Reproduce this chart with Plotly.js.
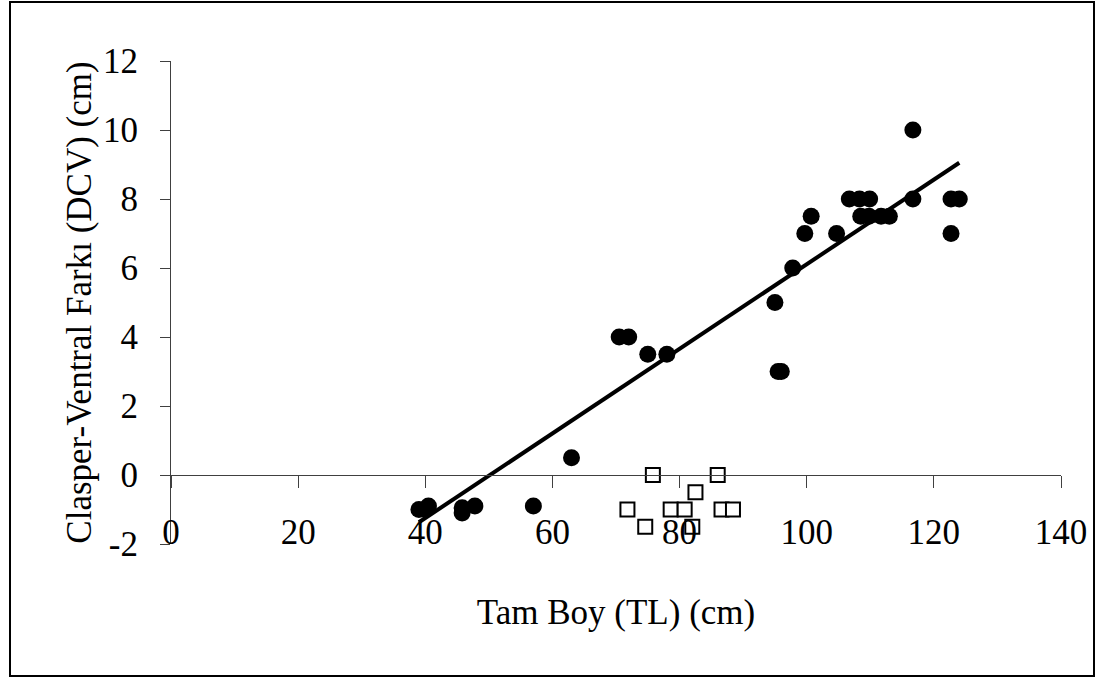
<!DOCTYPE html>
<html>
<head>
<meta charset="utf-8">
<script src="https://cdn.plot.ly/plotly-3.0.1.min.js"></script>
<style>
  html, body { margin: 0; padding: 0; background: #fff; }
  #wrap { position: relative; width: 1103px; height: 678px; }
  #chart { width: 1103px; height: 678px; }
  #frame { position: absolute; left: 9px; top: 1px; width: 1086px; height: 676px;
           border: 2px solid #000; box-sizing: border-box; pointer-events: none; }
</style>
</head>
<body>
<div id="wrap">
  <div id="chart"></div>
  <div id="frame"></div>
</div>
<script>
// Filled circles (mature)
const filledX = [39, 40, 40.5, 45.8, 45.8, 47.8, 57, 63, 70.5, 72, 75, 78, 95, 95.5, 96,
                 97.8, 99.7, 100.7, 104.7, 106.7, 108.3, 109.9, 108.5, 109.8, 111.7, 113,
                 116.7, 116.7, 122.7, 124, 122.7];
const filledY = [-1.0, -1.0, -0.9, -0.95, -1.1, -0.9, -0.9, 0.5, 4, 4, 3.5, 3.5, 5, 3, 3,
                 6, 7, 7.5, 7, 8, 8, 8, 7.5, 7.5, 7.5, 7.5,
                 10, 8, 8, 8, 7];
// Open squares (immature)
const openX = [75.8, 86, 82.5, 71.8, 78.6, 80.8, 86.6, 88.4, 74.6, 82];
const openY = [0, 0, -0.5, -1, -1, -1, -1, -1, -1.5, -1.5];
// Linear trend line end points
const trendX = [39, 124];
const trendY = [-1.37, 9.05];
// Axis ticks
const xTicks = [0, 20, 40, 60, 80, 100, 120, 140];
const yTicks = [-2, 0, 2, 4, 6, 8, 10, 12];

const FONT = '"Liberation Serif", serif';
const AXC = '#404040';

const traces = [
  { x: trendX, y: trendY, xaxis: 'x2', yaxis: 'y', type: 'scatter', mode: 'lines',
    line: { color: '#000', width: 4 }, hoverinfo: 'skip' },
  { x: filledX, y: filledY, type: 'scatter', mode: 'markers',
    marker: { symbol: 'circle', size: 17, color: '#000' } },
  { x: openX, y: openY, type: 'scatter', mode: 'markers',
    marker: { symbol: 'square', size: 14, color: '#fff', line: { color: '#000', width: 2 } } }
];

const layout = {
  width: 1103, height: 678,
  margin: { l: 171, r: 42, t: 61, b: 134, pad: 0 },
  paper_bgcolor: '#fff', plot_bgcolor: '#fff',
  showlegend: false,
  font: { family: FONT, color: '#000', size: 35 },
  xaxis: {
    range: [0, 140], tickvals: xTicks, ticktext: xTicks.map(String),
    showline: false, ticks: '', showgrid: false, zeroline: false,
    tickfont: { family: FONT, size: 35, color: '#000' },
    ticklabelstandoff: -36,
    title: { text: 'Tam Boy (TL) (cm)', font: { family: FONT, size: 35, color: '#000' }, standoff: 48 }
  },
  xaxis2: {
    overlaying: 'x', anchor: 'free', position: 2 / 14, side: 'bottom',
    range: [0, 140], tickvals: xTicks,
    showline: true, linecolor: AXC, linewidth: 1,
    ticks: 'outside', ticklen: 12, tickcolor: AXC, tickwidth: 1,
    showticklabels: false, showgrid: false, zeroline: false
  },
  yaxis: {
    range: [-2, 12], tickvals: yTicks, ticktext: yTicks.map(String),
    showline: true, linecolor: AXC, linewidth: 1,
    ticks: 'outside', ticklen: 10, tickcolor: AXC, tickwidth: 1,
    showgrid: false, zeroline: false,
    tickfont: { family: FONT, size: 35, color: '#000' },
    ticklabelstandoff: 15,
    title: { text: 'Clasper-Ventral Farkı (DCV) (cm)', font: { family: FONT, size: 35, color: '#000' }, standoff: 0 }
  }
};

Plotly.newPlot('chart', traces, layout, { displayModeBar: false, staticPlot: true });
</script>
</body>
</html>
